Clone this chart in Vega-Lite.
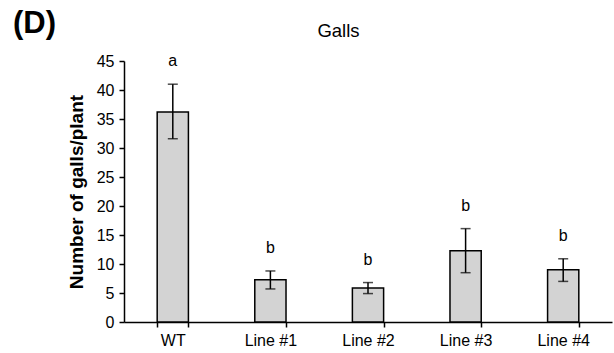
{
  "$schema": "https://vega.github.io/schema/vega-lite/v6.json",
  "width": 488,
  "height": 261,
  "autosize": {"type": "none"},
  "padding": {"left": 124, "top": 61, "right": 2, "bottom": 31},
  "background": "white",
  "title": {"text": "(D)", "anchor": "start", "frame": "group", "fontSize": 31, "fontWeight": "bold", "font": "Liberation Sans", "color": "black", "dx": -111, "dy": 23},
  "data": {"values": [
    {"line": "WT", "mean": 36.2, "lo": 31.6, "hi": 41.0, "letter": "a"},
    {"line": "Line #1", "mean": 7.3, "lo": 5.7, "hi": 8.8, "letter": "b"},
    {"line": "Line #2", "mean": 5.85, "lo": 4.9, "hi": 6.8, "letter": "b"},
    {"line": "Line #3", "mean": 12.3, "lo": 8.5, "hi": 16.1, "letter": "b"},
    {"line": "Line #4", "mean": 9.0, "lo": 7.0, "hi": 10.9, "letter": "b"}
  ]},
  "config": {
    "font": "Liberation Sans",
    "view": {"stroke": null},
    "axis": {"labelColor": "black", "titleColor": "black", "domainColor": "black", "tickColor": "black", "grid": false, "labelFont": "Liberation Sans", "titleFont": "Liberation Sans"}
  },
  "resolve": {"axis": {"x": "independent", "y": "independent"}},
  "layer": [
    {
      "mark": {"type": "bar", "fill": "#d3d3d3", "stroke": "black", "strokeWidth": 1.5},
      "encoding": {
        "x": {"field": "line", "type": "nominal", "sort": null,
          "scale": {"paddingInner": 0.68, "paddingOuter": 0.34},
          "axis": {"title": null, "labelAngle": 0, "tickBand": "extent", "tickSize": 5, "labelFontSize": 16, "labelPadding": 5, "domainWidth": 1.5, "tickWidth": 1.5}},
        "y": {"field": "mean", "type": "quantitative", "scale": {"domain": [0, 45]},
          "axis": {"title": "Number of galls/plant", "values": [0, 5, 10, 15, 20, 25, 30, 35, 40, 45], "labelOverlap": false, "tickSize": 5, "labelFontSize": 16, "labelPadding": 5, "titleFontSize": 19, "titleFontWeight": "bold", "titlePadding": 10, "domainWidth": 1.5, "tickWidth": 1.5}}
      }
    },
    {
      "mark": {"type": "rule", "strokeWidth": 1.5, "color": "black"},
      "encoding": {
        "x": {"field": "line", "type": "nominal", "sort": null, "axis": null},
        "y": {"field": "lo", "type": "quantitative", "axis": null},
        "y2": {"field": "hi"}
      }
    },
    {
      "mark": {"type": "tick", "size": 10, "thickness": 1.5, "color": "black", "orient": "horizontal"},
      "encoding": {
        "x": {"field": "line", "type": "nominal", "sort": null, "axis": null},
        "y": {"field": "lo", "type": "quantitative", "axis": null}
      }
    },
    {
      "mark": {"type": "tick", "size": 10, "thickness": 1.5, "color": "black", "orient": "horizontal"},
      "encoding": {
        "x": {"field": "line", "type": "nominal", "sort": null, "axis": null},
        "y": {"field": "hi", "type": "quantitative", "axis": null}
      }
    },
    {
      "mark": {"type": "text", "dy": -23, "fontSize": 16, "baseline": "middle", "color": "black"},
      "encoding": {
        "x": {"field": "line", "type": "nominal", "sort": null,
          "axis": {"orient": "top", "domain": false, "ticks": false, "labels": false, "title": "Galls", "titleFontSize": 18.5, "titleFontWeight": "normal", "titleX": 214, "titleY": -31, "titleBaseline": "middle", "titleAlign": "center"}},
        "y": {"field": "hi", "type": "quantitative", "axis": null},
        "text": {"field": "letter"}
      }
    }
  ]
}
